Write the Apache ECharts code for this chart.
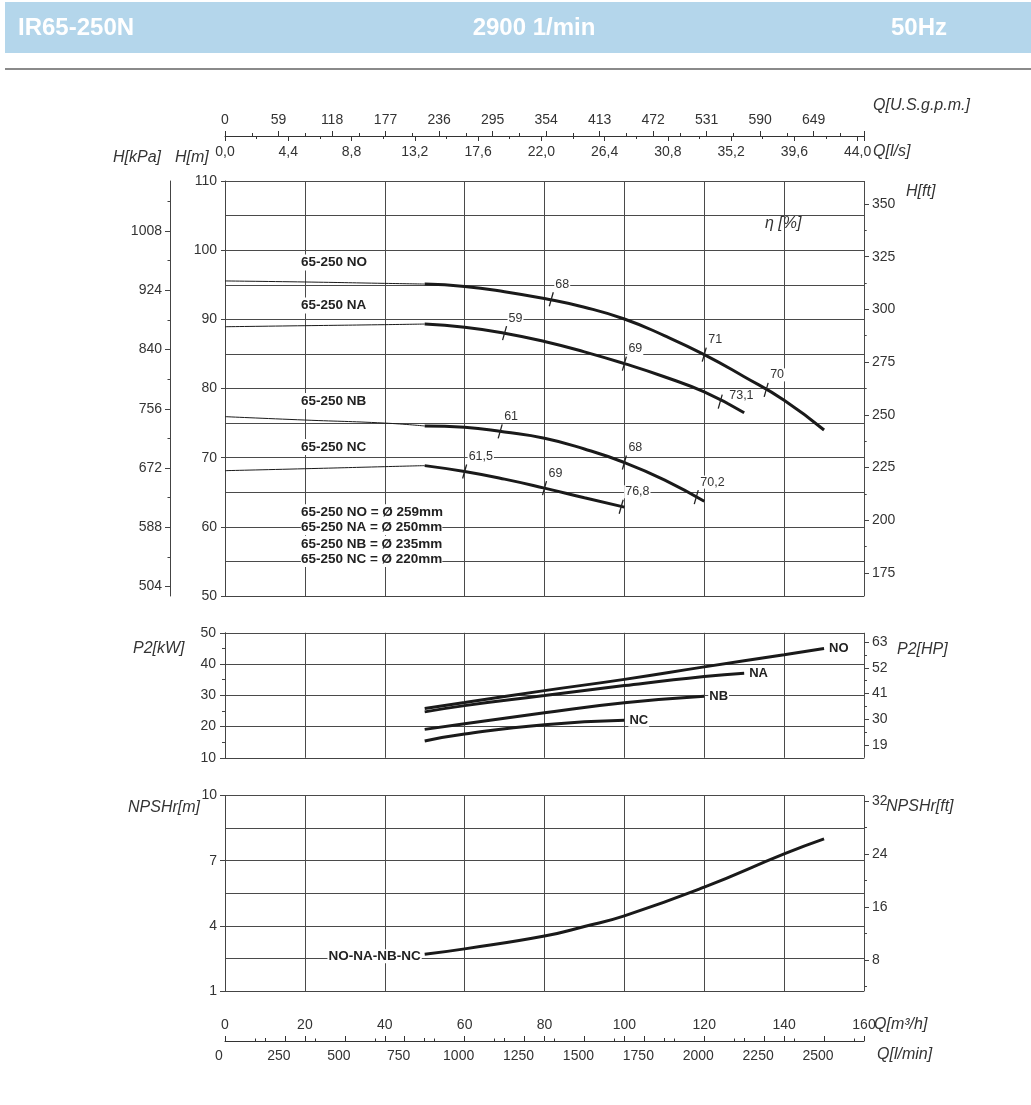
<!DOCTYPE html>
<html><head><meta charset="utf-8">
<script src="https://cdn.jsdelivr.net/npm/echarts@6/dist/echarts.min.js"></script>
<style>html,body{margin:0;padding:0;background:#fff}#c{width:1031px;height:1105px}</style>
</head><body><div id="c"></div>
<script>
// ---------------- DATA ----------------
// Head curves H[m] vs Q[m3/h]; thin part (0..50) and operating part (50..end)
const headNO_low = [[0,95.55],[20,95.4],[40,95.2],[50,95.1]];
const headNO = [[50,95.1],[60,94.75],[70,94.0],[80,93.0],[90,91.75],[100,90.05],[110,87.65],[120,84.9],[130,81.7],[140,78.3],[150,74.0]];
const headNA_low = [[0,88.93],[20,89.08],[40,89.23],[50,89.32]];
const headNA = [[50,89.32],[60,88.85],[70,88.0],[80,86.8],[90,85.3],[100,83.6],[110,81.7],[120,79.5],[130,76.5]];
const headNB_low = [[0,75.93],[20,75.44],[40,75.0],[50,74.58]];
const headNB = [[50,74.58],[60,74.4],[70,73.7],[80,72.8],[90,71.25],[100,69.3],[110,66.8],[120,63.7]];
const headNC_low = [[0,68.12],[20,68.4],[40,68.7],[50,68.85]];
const headNC = [[50,68.85],[60,68.0],[70,66.9],[80,65.6],[90,64.2],[100,62.85]];
// Efficiency marks [Q, H, eta label]
const effMarks = [
  [81.7,92.9,'68'],[120,84.9,'71'],[135.5,79.8,'70'],
  [70,88.0,'59'],[100,83.6,'69'],[124,78.1,'73,1'],
  [68.9,73.8,'61'],[100,69.3,'68'],[118,64.3,'70,2'],
  [60,68.0,'61,5'],[80,65.6,'69'],[99.2,62.9,'76,8']
];
// Power P2[kW]
const powerNO = [[50,25.8],[60,27.7],[80,31.5],[100,35.1],[120,39.1],[140,43.0],[150,45.0]];
const powerNA = [[50,24.7],[60,26.7],[80,29.9],[100,33.1],[120,36.0],[130,37.05]];
const powerNB = [[50,19.1],[60,20.9],[80,24.4],[100,27.6],[120,29.7]];
const powerNC = [[50,15.4],[60,17.6],[80,20.6],[100,22.0]];
const powerNames = ['NO','NA','NB','NC'];
// NPSHr[m]
const npsh = [[50,2.69],[60,2.94],[80,3.53],[90,3.97],[100,4.46],[120,5.78],[140,7.31],[150,8.0]];
const npshName = 'NO-NA-NB-NC';
// Annotations in the head chart
const annoTexts = ['65-250 NO','65-250 NA','65-250 NB','65-250 NC',
  '65-250 NO = Ø 259mm','65-250 NA = Ø 250mm','65-250 NB = Ø 235mm','65-250 NC = Ø 220mm'];
const annoAnchors = [[19,98.2],[19,92.0],[19,78.2],[19,71.55],[19,62.1],[19,59.93],[19,57.52],[19,55.35]];
// Tick labels
const hmLabels = [50,60,70,80,90,100,110];
const kpaTicks = [504,588,672,756,840,924,1008];
const kpaMinor = [546,630,714,798,882,966,1050];
const ftTicks = [175,200,225,250,275,300,325,350];
const ftMinor = [187.5,212.5,237.5,262.5,287.5,312.5,337.5];
const hpTicks = [19,30,41,52,63];
const hpMinor = [24.5,35.5,46.5,57.5];
const npshLabels = [1,4,7,10];
const npshFtTicks = [8,16,24,32];
const npshFtMinor = [4,12,20,28];

// ---------------- CHART ----------------
const GPM = 4.40287, KPA = 9.81, FT = 3.28084, HPK = 1.34102;
const F = 'Liberation Sans, Arial, sans-serif';
const AX = '#444', GRIDC = '#4a4a4a', TXT = '#333', CUR = '#1a1a1a';
const lab = {color: TXT, fontSize: 14, fontFamily: F};
const isMult = (v, s) => Math.abs(v / s - Math.round(v / s)) < 1e-6;
const plain = v => String(v);

function baseX(g) {
  return {type:'value', gridIndex:g, min:0, max:160, interval:20, position:'bottom',
    axisLine:{show:true, onZero:false, lineStyle:{color:AX}}, axisTick:{show:false}, axisLabel:{show:false},
    splitLine:{show:true, lineStyle:{color:GRIDC, width:1}}};
}
function yMain(g, min, max, interval, labels) {
  return {type:'value', gridIndex:g, min, max, interval, position:'left',
    axisLine:{show:true, onZero:false, lineStyle:{color:AX}}, axisTick:{show:false},
    axisLabel:Object.assign({margin:8, customValues:labels, formatter:plain}, lab),
    splitLine:{show:true, lineStyle:{color:GRIDC, width:1}}};
}
function yTicks(g, min, max, o) {
  const a = {type:'value', gridIndex:g, min, max, position:o.pos || 'left', offset:o.offset || 0,
    axisLine:{show:!!o.line, onZero:false, lineStyle:{color:AX}},
    axisTick:{show:true, length:o.len || 5, lineStyle:{color:AX}},
    axisLabel:o.labels ? Object.assign({margin:8, customValues:o.ticks, formatter:plain}, lab) : {show:false},
    splitLine:{show:false}};
  if (o.ticks) a.axisTick.customValues = o.ticks;
  if (o.interval) a.interval = o.interval;
  return a;
}
function curve(data, width, xi, yi, extra) {
  return Object.assign({type:'line', xAxisIndex:xi, yAxisIndex:yi, data, symbol:'none', showSymbol:false,
    smooth:0.5, lineStyle:{color:CUR, width}, silent:true, z:5}, extra || {});
}
function T(text, x, y, o) {
  return {type:'text', x, y, z:10, style:Object.assign({text, fill:TXT, font:'italic 16px ' + F,
    textAlign:'left', align:'left', textVerticalAlign:'middle', verticalAlign:'middle'}, o || {})};
}
const hdr = {font:'bold 24px ' + F, fill:'#fff'};

const effLabelOffsets = {'73,1':[8,-6]};

const option = {
  animation:false,
  backgroundColor:'#fff',
  grid:[
    {left:225, top:181, width:639, height:415},
    {left:225, top:632.8, width:639, height:125},
    {left:225, top:795.5, width:639, height:195.5}
  ],
  xAxis:[
    baseX(0),
    {type:'value', gridIndex:0, min:0, max:160*GPM, interval:59, position:'top', offset:45,
      axisLine:{show:true, onZero:false, lineStyle:{color:'#333'}},
      axisTick:{show:true, length:5, lineStyle:{color:'#333'}},
      minorTick:{show:true, splitNumber:2, length:3, lineStyle:{color:'#333'}},
      axisLabel:Object.assign({margin:9, formatter:v => isMult(v,59) ? String(Math.round(v)) : ''}, lab),
      splitLine:{show:false}},
    {type:'value', gridIndex:0, min:0, max:160/3.6, interval:4.4, position:'top', offset:45,
      axisLine:{show:false, onZero:false},
      axisTick:{show:true, inside:true, length:5, lineStyle:{color:'#333'}},
      minorTick:{show:true, splitNumber:2, length:3, lineStyle:{color:'#333'}},
      axisLabel:Object.assign({inside:true, margin:9, formatter:v => isMult(v,4.4) ? v.toFixed(1).replace('.', ',') : ''}, lab),
      splitLine:{show:false}},
    baseX(1),
    baseX(2),
    {type:'value', gridIndex:2, min:0, max:160, interval:20, position:'bottom', offset:50,
      axisLine:{show:true, onZero:false, lineStyle:{color:'#333'}},
      axisTick:{show:true, inside:true, length:5, lineStyle:{color:'#333'}},
      minorTick:{show:true, splitNumber:2, length:3, lineStyle:{color:'#333'}},
      axisLabel:Object.assign({inside:true, margin:9}, lab),
      splitLine:{show:false}},
    {type:'value', gridIndex:2, min:0, max:160*1000/60, interval:250, position:'bottom', offset:50,
      axisLine:{show:false, onZero:false},
      axisTick:{show:true, inside:true, length:5, lineStyle:{color:'#333'}},
      minorTick:{show:true, splitNumber:2, length:2.5, lineStyle:{color:'#333'}},
      axisLabel:Object.assign({margin:8, padding:[0,12,0,0], formatter:v => isMult(v,250) ? String(Math.round(v)) : ''}, lab),
      splitLine:{show:false}}
  ],
  yAxis:[
    yMain(0, 50, 110, 5, hmLabels),                                                   // 0 H[m]
    yTicks(0, 50, 110, {interval:10, len:4}),                                         // 1
    yTicks(0, 50*KPA, 110*KPA, {offset:55, line:true, ticks:kpaTicks, labels:true}),  // 2 kPa
    yTicks(0, 50*KPA, 110*KPA, {offset:55, ticks:kpaMinor, len:2.5}),                 // 3
    yTicks(0, 50*FT, 110*FT, {pos:'right', ticks:ftTicks, labels:true}),              // 4 ft
    yTicks(0, 50*FT, 110*FT, {pos:'right', ticks:ftMinor, len:2.7}),                  // 5
    {type:'value', gridIndex:1, min:10, max:50, interval:10, position:'left',         // 6 kW
      axisLine:{show:true, onZero:false, lineStyle:{color:AX}},
      axisTick:{show:true, length:5, lineStyle:{color:AX}},
      minorTick:{show:true, splitNumber:2, length:3, lineStyle:{color:AX}},
      axisLabel:Object.assign({margin:9}, lab),
      splitLine:{show:true, lineStyle:{color:GRIDC, width:1}}},
    yTicks(1, 10*HPK, 50*HPK, {pos:'right', ticks:hpTicks, labels:true}),             // 7 HP
    yTicks(1, 10*HPK, 50*HPK, {pos:'right', ticks:hpMinor, len:3}),                   // 8
    yMain(2, 1, 10, 1.5, npshLabels),                                                 // 9 NPSH m
    yTicks(2, 1, 10, {ticks:npshLabels, len:5}),                                      // 10
    yTicks(2, FT, 10*FT, {pos:'right', ticks:npshFtTicks, labels:true}),              // 11 ft
    yTicks(2, FT, 10*FT, {pos:'right', ticks:npshFtMinor, len:3})                     // 12
  ],
  graphic:[
    {type:'rect', shape:{x:5, y:2, width:1026, height:51}, style:{fill:'#b4d6eb'}, z:1},
    {type:'line', shape:{x1:5, y1:69, x2:1031, y2:69}, style:{stroke:'#8a8a8a', lineWidth:2}, z:1},
    T('IR65-250N', 18, 28, hdr),
    T('2900 1/min', 534, 28, Object.assign({textAlign:'center', align:'center'}, hdr)),
    T('50Hz', 891, 28, hdr),
    T('Q[U.S.g.p.m.]', 873, 106),
    T('Q[l/s]', 873, 152),
    T('H[kPa]', 113, 158),
    T('H[m]', 175, 158),
    T('H[ft]', 906, 192),
    T('η [%]', 765, 224),
    T('P2[kW]', 133, 649),
    T('P2[HP]', 897, 650),
    T('NPSHr[m]', 128, 808),
    T('NPSHr[ft]', 886, 807),
    T('Q[m³/h]', 874, 1025),
    T('Q[l/min]', 877, 1055)
  ],
  series:[
    curve(headNO_low, 1, 0, 0), curve(headNO, 3, 0, 0),
    curve(headNA_low, 1, 0, 0), curve(headNA, 3, 0, 0),
    curve(headNB_low, 1, 0, 0), curve(headNB, 3, 0, 0),
    curve(headNC_low, 1, 0, 0), curve(headNC, 3, 0, 0),
    {type:'custom', xAxisIndex:0, yAxisIndex:0, z:8, silent:true,
      data:effMarks.map(m => [m[0], m[1]]),
      renderItem:(params, api) => {
        const m = effMarks[params.dataIndex];
        const p = api.coord([api.value(0), api.value(1)]);
        const off = effLabelOffsets[m[2]] || [3, -15];
        return {type:'group', children:[
          {type:'line', shape:{x1:p[0]-2, y1:p[1]+7, x2:p[0]+2, y2:p[1]-7}, style:{stroke:'#222', lineWidth:1.3}},
          {type:'text', x:p[0]+off[0], y:p[1]+off[1], style:{text:m[2], fill:TXT, font:'12.5px ' + F,
            textAlign:'left', align:'left', textVerticalAlign:'middle', verticalAlign:'middle',
            backgroundColor:'#fff', padding:[0,1]}}
        ]};
      }},
    {type:'custom', xAxisIndex:0, yAxisIndex:0, z:8, silent:true,
      data:annoAnchors,
      renderItem:(params, api) => {
        const p = api.coord([api.value(0), api.value(1)]);
        return {type:'text', x:p[0], y:p[1], style:{text:annoTexts[params.dataIndex], fill:'#222', font:'bold 13.5px ' + F,
          textAlign:'left', align:'left', textVerticalAlign:'middle', verticalAlign:'middle',
          backgroundColor:'#fff', padding:[1,0]}};
      }},
    ...[powerNO, powerNA, powerNB, powerNC].map((d, i) => curve(d, 3, 3, 6, {name:powerNames[i],
      endLabel:{show:true, formatter:'{a}', distance:4, color:'#222', fontWeight:'bold', fontSize:13, fontFamily:F,
        backgroundColor:'#fff', padding:[0,1]}})),
    curve(npsh, 3, 4, 9),
    {type:'custom', xAxisIndex:4, yAxisIndex:9, z:8, silent:true,
      data:[npsh[0]],
      renderItem:(params, api) => {
        const p = api.coord([api.value(0), api.value(1)]);
        return {type:'text', x:p[0]-3, y:p[1]+2, style:{text:npshName, fill:'#222', font:'bold 13.5px ' + F,
          textAlign:'right', align:'right', textVerticalAlign:'middle', verticalAlign:'middle',
          backgroundColor:'#fff', padding:[0,1]}};
      }}
  ]
};
const chart = echarts.init(document.getElementById('c'), null, {renderer:'canvas'});
chart.setOption(option);
</script></body></html>
